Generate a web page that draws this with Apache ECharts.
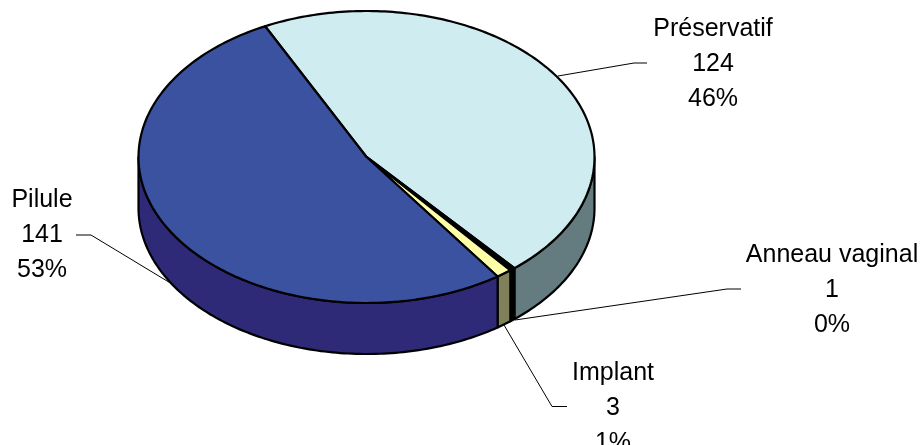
<!DOCTYPE html>
<html><head><meta charset="utf-8">
<style>html,body{margin:0;padding:0;background:#fff;overflow:hidden}#c{width:923px;height:445px}</style>
<script src="https://cdn.jsdelivr.net/npm/echarts@6/dist/echarts.min.js"></script>
</head><body><div id="c"></div>
<script>
// Data
const categories = ['Préservatif', 'Anneau vaginal', 'Implant', 'Pilule'];
const values = [124, 1, 3, 141];
const percentLabels = ['46%', '0%', '1%', '53%'];
// Styles
const topColors = ['#CFECF0', '#000000', '#FFFFA8', '#3A52A0'];
const sideColors = ['#647C80', '#000000', '#80805A', '#2E2A78'];
// Layout of the projected pie
const pie = { cx: 366.5, cy: 157, rx: 228, ry: 146, depth: 51, startDeg: -26.4 };
// Label layout: text centre and first line y, then leader polyline
const labelLayout = [
  { x: 713, y: 29, lines: [[647,63],[634,63],[558,76]] },
  { x: 832, y: 255, lines: [[741,289],[727,289],[515,320]] },
  { x: 613, y: 373, lines: [[567,406.5],[552,406.5],[504,325]] },
  { x: 42, y: 200, lines: [[76,235],[91,235],[172,284]] }
];
const total = values.reduce((a, b) => a + b, 0);
function pt(deg, dy) {
  const r = deg * Math.PI / 180;
  return [pie.cx + pie.rx * Math.sin(r), pie.cy - pie.ry * Math.cos(r) + (dy || 0)];
}
function arc(a0, a1, dy) {
  const n = Math.max(2, Math.ceil(Math.abs(a1 - a0) / 1));
  const out = [];
  for (let i = 0; i <= n; i++) out.push(pt(a0 + (a1 - a0) * i / n, dy));
  return out;
}
const stroke = { stroke: '#000', lineWidth: 2.2, lineJoin: 'round' };
function renderItem(params, api) {
  const i = params.dataIndex;
  let before = 0;
  for (let k = 0; k < i; k++) before += values[k];
  const a0 = pie.startDeg + before / total * 360;
  const a1 = a0 + api.value(1) / total * 360;
  const children = [];
  const s0 = Math.max(a0, 90), s1 = Math.min(a1, 270);
  if (s1 > s0) {
    const pts = arc(s0, s1, 0).concat(arc(s1, s0, pie.depth));
    children.push({ type: 'polygon', shape: { points: pts },
      style: Object.assign({ fill: sideColors[i] }, stroke) });
  }
  const tp = [[pie.cx, pie.cy]].concat(arc(a0, a1, 0));
  children.push({ type: 'polygon', shape: { points: tp },
    style: Object.assign({ fill: topColors[i] }, stroke), z2: 2 });
  const L = labelLayout[i];
  children.push({ type: 'polyline', shape: { points: L.lines },
    style: { stroke: '#000', lineWidth: 1, fill: null }, z2: 3 });
  [categories[i], String(api.value(1)), percentLabels[i]].forEach((t, j) => {
    children.push({ type: 'text', z2: 4, style: {
      text: t, x: L.x, y: L.y + j * 35.3, align: 'center', verticalAlign: 'middle',
      fill: '#000', font: '25px "Liberation Sans", Arial, sans-serif' } });
  });
  return { type: 'group', children };
}
const chart = echarts.init(document.getElementById('c'), null, { renderer: 'canvas' });
chart.setOption({
  animation: false,
  backgroundColor: '#fff',
  series: [{
    type: 'custom', coordinateSystem: 'none', clip: false,
    renderItem,
    data: categories.map((c, i) => ({ name: c, value: [i, values[i]] }))
  }]
});
</script></body></html>
